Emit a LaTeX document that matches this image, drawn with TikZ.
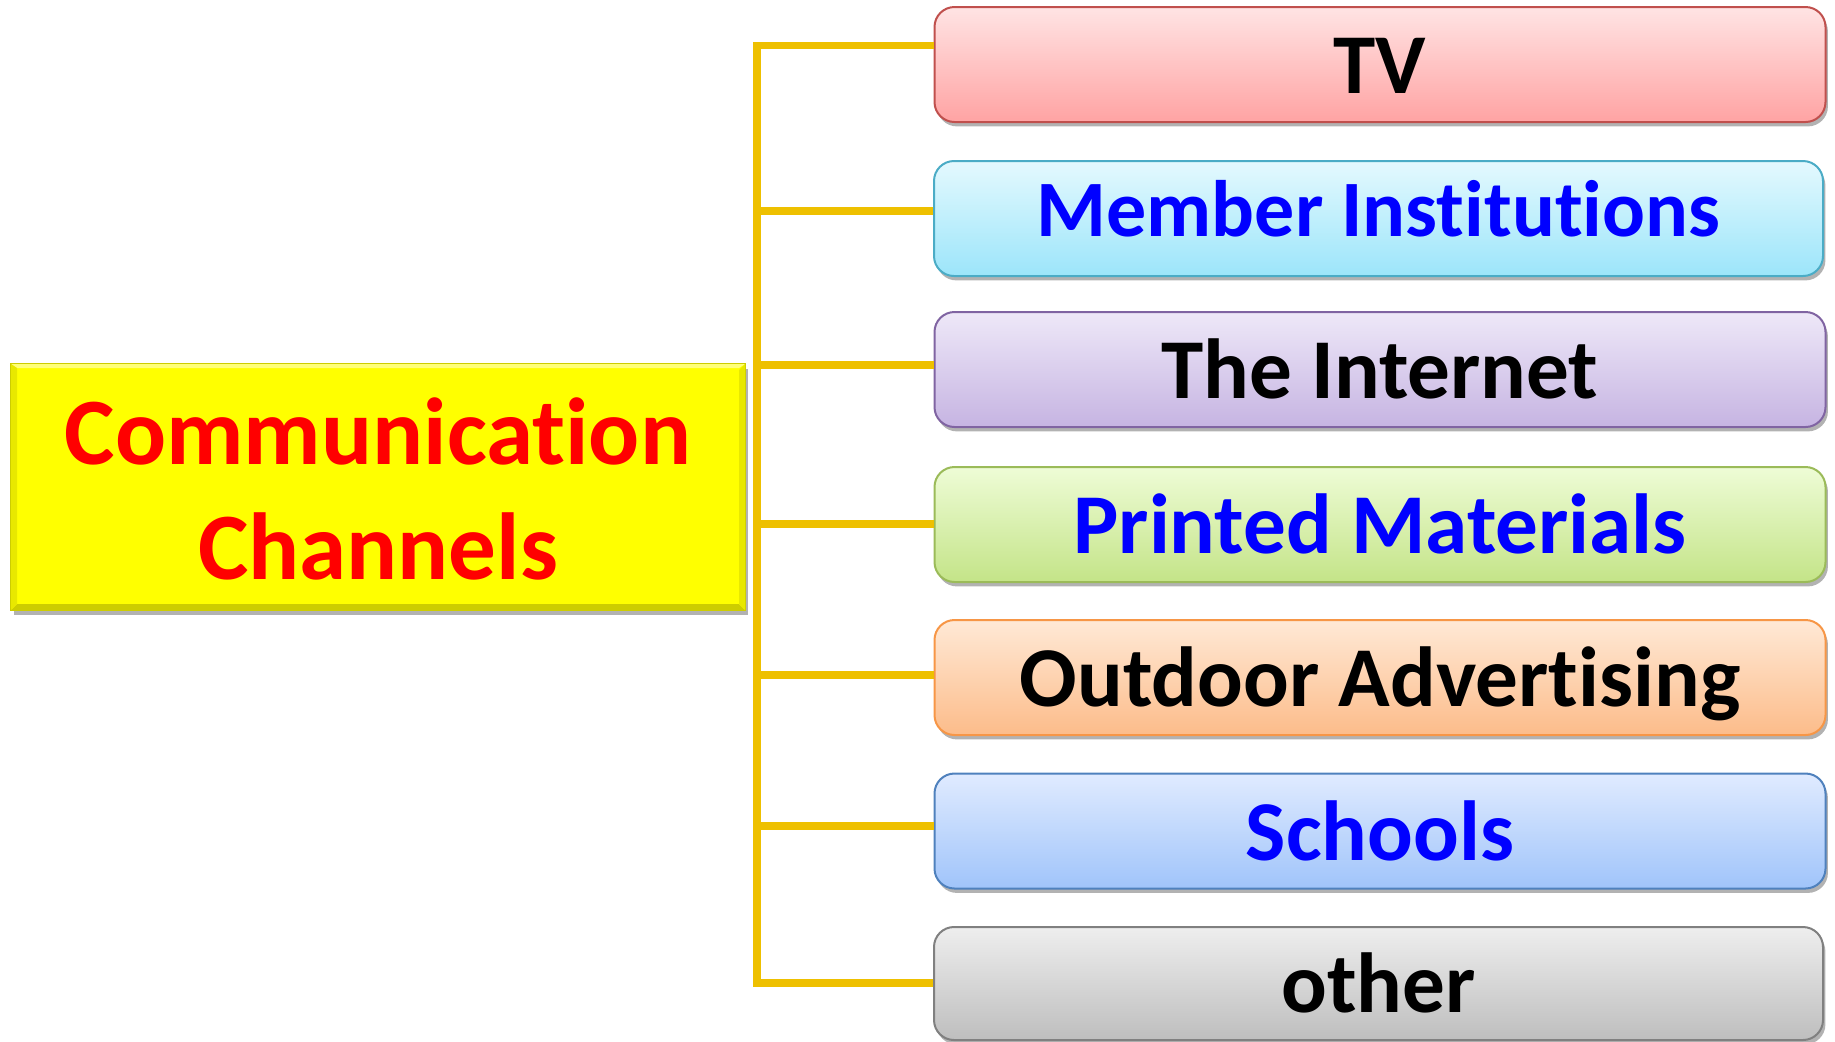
\documentclass[tikz,border=0pt]{standalone}
\usepackage{fontspec}
\setmainfont{Carlito}[Ligatures={NoCommon}]
\usetikzlibrary{shadows}
\definecolor{spinec}{RGB}{238,192,0}
\definecolor{tvtop}{RGB}{255,228,228}\definecolor{tvbot}{RGB}{255,163,163}\definecolor{tvdraw}{RGB}{192,80,77}
\definecolor{mitop}{RGB}{228,249,254}\definecolor{mibot}{RGB}{156,229,250}\definecolor{midraw}{RGB}{75,172,198}
\definecolor{intop}{RGB}{238,232,248}\definecolor{inbot}{RGB}{198,180,226}\definecolor{indraw}{RGB}{128,100,162}
\definecolor{prtop}{RGB}{238,252,214}\definecolor{prbot}{RGB}{196,228,136}\definecolor{prdraw}{RGB}{155,187,89}
\definecolor{ottop}{RGB}{255,233,214}\definecolor{otbot}{RGB}{252,188,138}\definecolor{otdraw}{RGB}{247,150,70}
\definecolor{sctop}{RGB}{224,235,255}\definecolor{scbot}{RGB}{160,196,250}\definecolor{scdraw}{RGB}{79,129,189}
\definecolor{ortop}{RGB}{238,238,238}\definecolor{orbot}{RGB}{190,190,190}\definecolor{ordraw}{RGB}{128,128,128}
\definecolor{bluetxt}{RGB}{0,0,255}
\definecolor{redtxt}{RGB}{255,0,0}
\definecolor{ylw}{RGB}{255,255,0}
\definecolor{ylwdark}{RGB}{205,205,0}
\definecolor{ylwmid}{RGB}{232,232,0}
\definecolor{ylwlight}{RGB}{255,255,120}
\tikzset{
  chan/.style={draw, line width=1pt, rounded corners=10pt, minimum width=445.5pt,
    minimum height=57.5pt, inner sep=0pt, font=\bfseries\fontsize{42.6}{50}\selectfont,
    text height=33pt, text depth=4pt,
    drop shadow={shadow xshift=1.2pt, shadow yshift=-2.2pt, opacity=0.3, fill=black}},
  spine/.style={draw=spinec, line width=3.6pt},
  hub/.style={fill=ylw, draw=ylwdark, line width=0.6pt, minimum width=367pt, minimum height=123pt,
    inner sep=0pt, align=center,
    drop shadow={shadow xshift=1.5pt, shadow yshift=-2.5pt, opacity=0.3, fill=black}},
  hubtxt/.style={text=redtxt, font=\bfseries\fontsize{47.6}{57.5}\selectfont, align=center, inner sep=0pt}
}
\begin{document}
\begin{tikzpicture}[x=0.5pt,y=-0.5pt]
\useasboundingbox (0,0) rectangle (1835,1041);
% hub
\node[hub] (hub) at (378,487) {};
\fill[ylwdark] (11,610) -- (745,610) -- (739,604) -- (17,604) -- cycle;
\fill[ylwmid] (745,364) -- (745,610) -- (739,604) -- (739,370) -- cycle;
\fill[ylwlight] (11,364) -- (745,364) -- (739,368) -- (17,368) -- cycle;
\fill[ylwmid] (11,364) -- (11,610) -- (17,604) -- (17,368) -- cycle;
\node[hubtxt] (hubtext) at (378,489) {Communication\\Channels};
% channels
\node[chan, top color=tvtop, bottom color=tvbot, draw=tvdraw] (tv) at (1380,64.5) {TV};
\node[chan, top color=mitop, bottom color=mibot, draw=midraw, minimum width=444.5pt, text=bluetxt, font=\bfseries\fontsize{40}{48}\selectfont, text height=21.5pt, text depth=4pt] (mi) at (1378.5,218.5) {Member Institutions};
\node[chan, top color=intop, bottom color=inbot, draw=indraw] (in) at (1380,369.5) {The Internet};
\node[chan, top color=prtop, bottom color=prbot, draw=prdraw, text=bluetxt] (pr) at (1380,524.5) {Printed Materials};
\node[chan, top color=ottop, bottom color=otbot, draw=otdraw] (ot) at (1380,677.5) {Outdoor Advertising};
\node[chan, top color=sctop, bottom color=scbot, draw=scdraw, text=bluetxt] (sc) at (1380,831) {Schools};
\node[chan, top color=ortop, bottom color=orbot, draw=ordraw, minimum width=444.5pt, minimum height=56.5pt] (or) at (1378.5,983.5) {other};
% spine
\coordinate (s1) at (757,45.5);
\coordinate (s2) at (757,211);
\coordinate (s3) at (757,365);
\coordinate (s4) at (757,524);
\coordinate (s5) at (757,675);
\coordinate (s6) at (757,826);
\coordinate (s7) at (757,983);
\draw[spine, line join=miter] (s1 -| tv.west) -- (s1) -- (s7) -- (s7 -| or.west);
\draw[spine] (s2) -- (s2 -| mi.west);
\draw[spine] (s3) -- (s3 -| in.west);
\draw[spine] (s4) -- (s4 -| pr.west);
\draw[spine] (s5) -- (s5 -| ot.west);
\draw[spine] (s6) -- (s6 -| sc.west);
\end{tikzpicture}
\end{document}
